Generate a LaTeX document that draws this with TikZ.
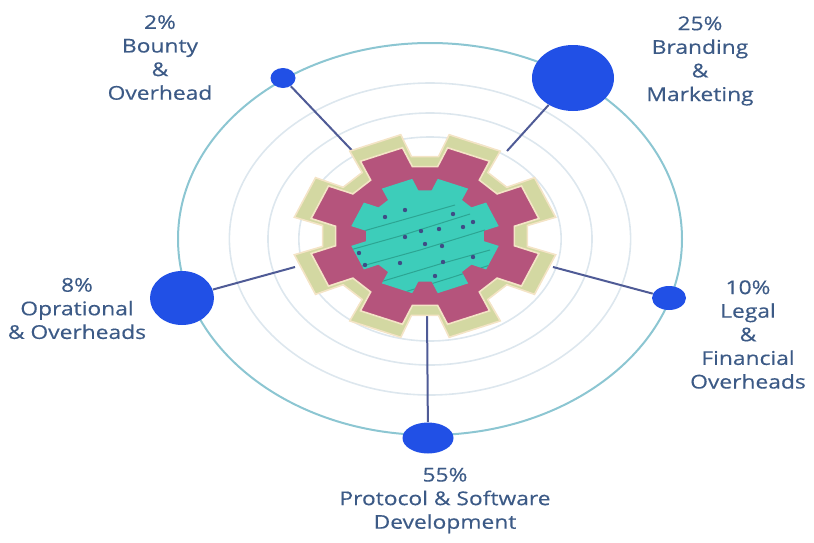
\documentclass[tikz,border=0pt]{standalone}
\usepackage{fontspec}
\newfontfamily\sharefont{Open Sans}[FakeStretch=1.2, FakeBold=0.4]
\usetikzlibrary{shapes.geometric}
\usetikzlibrary{positioning}

\definecolor{ringteal}{HTML}{8CC6D2}
\definecolor{ringgray}{HTML}{DDE7EE}
\definecolor{gearpink}{HTML}{B5547C}
\definecolor{gearolive}{HTML}{D3D8A2}
\definecolor{gearcream}{HTML}{F4E4C6}
\definecolor{gearteal}{HTML}{3DCDBA}
\definecolor{tracedark}{HTML}{2CA593}
\definecolor{padnavy}{HTML}{3F4C86}
\definecolor{dotblue}{HTML}{2150E6}
\definecolor{linkslate}{HTML}{4F5B96}
\definecolor{textslate}{HTML}{3C5A86}

% gear outline: root radius, tip radius, half angle at root, half angle at tip
\newcommand{\gearoutline}[4]{%
  (22.5-#3:#1)
  \foreach \k in {0,...,7} {
    -- (22.5+45*\k-#3:#1) -- (22.5+45*\k-#4:#2)
    -- (22.5+45*\k+#4:#2) -- (22.5+45*\k+#3:#1)
  } -- cycle}

\tikzset {
  % rings round the gear
  outer ring/.style = {
    draw = ringteal,
    line width = 1pt
  },
  guide ring/.style = {
    draw = ringgray,
    line width = 0.8pt
  },
  % line from a share bubble to the gear
  link path/.style = {
    draw = linkslate,
    line width = 1pt
  },
  trace/.style = {
    draw = tracedark,
    line width = 0.5pt
  }
}
\tikzset {
  % share bubble
  share node/.style = {
    ellipse,
    fill = dotblue,
    inner sep = 0
  },
  % share text
  share text/.style = {
    align = center,
    text = textslate,
    inner sep = 0,
    font = \sharefont\fontsize{9.5}{11.8}\selectfont
  }
}

\begin{document}
\begin{tikzpicture}[x=0.5pt, y=-0.5pt]
  \useasboundingbox (0,0) rectangle (814,542);

  % rings
  \foreach \r in {102,126,156}
    \draw[guide ring] (430,239) ellipse ({1.286*\r} and \r);
  \draw[outer ring] (430,239) ellipse (252 and 196);

  % bubbles
  \node[share node, minimum width=12.5pt, minimum height=10pt] (b2) at (283,78) {};
  \node[share node, minimum width=41pt, minimum height=33pt] (b25) at (573,78) {};
  \node[share node, minimum width=32pt, minimum height=27pt] (b8) at (182,298) {};
  \node[share node, minimum width=17pt, minimum height=12pt] (b10) at (669,298) {};
  \node[share node, minimum width=25.5pt, minimum height=15.5pt] (b55) at (428,438) {};

  \coordinate (g2) at (363,162);
  \coordinate (g25) at (507,151);
  \coordinate (g8) at (295,267);
  \coordinate (g10) at (553,267);
  \coordinate (g55) at (427,312);

  \draw[link path] (b2) -- (g2);
  \draw[link path] (b25) -- (g25);
  \draw[link path] (b8) -- (g8);
  \draw[link path] (b10) -- (g10);
  \draw[link path] (b55) -- (g55);

  % gear
  \begin{scope}[shift={(425,236)}, xscale=1.29]
    \fill[gearolive, draw=gearcream, line width=0.8pt] \gearoutline{80}{103}{15}{12};
    \fill[gearpink, draw=gearcream, line width=0.8pt] \gearoutline{70}{90}{14.5}{11.3};
    \fill[gearteal] \gearoutline{46}{58}{16}{12.7};
  \end{scope}
  \begin{scope}
    \clip[shift={(425,236)}, xscale=1.29] \gearoutline{46}{58}{16}{12.7};
    \draw[trace] (350,250) -- (400,236) -- (470,214);
    \draw[trace] (355,268) -- (420,250) -- (485,230);
    \draw[trace] (370,285) -- (440,264) -- (490,250);
    \draw[trace] (360,232) -- (420,215) -- (455,205);
    \draw[trace] (395,295) -- (450,278) -- (490,265);
  \end{scope}
  \foreach \p in {(385,217),(405,210),(453,214),(473,222),(463,227),(439,229),
                  (421,231),(405,237),(425,244),(442,246),(400,263),(443,262),
                  (473,257),(435,276),(359,253),(365,265)}
    \fill[padnavy] \p circle (2.2);

  % texts
  \node[share text] (t2) at (160,57.5) {2\%\\Bounty\\\&\\Overhead};
  \node[share text] (t25) at (700,61) {25\%\\Branding\\\&\\Marketing};
  \node[share text] (t8) at (77,308.5) {8\%\\Oprational\\\& Overheads};
  \node[share text] (t10) at (748,334.5) {10\%\\Legal\\\&\\Financial\\Overheads};
  \node[share text] (t55) at (445,500.5) {55\%\\Protocol \& Software\\Development};
\end{tikzpicture}
\end{document}
